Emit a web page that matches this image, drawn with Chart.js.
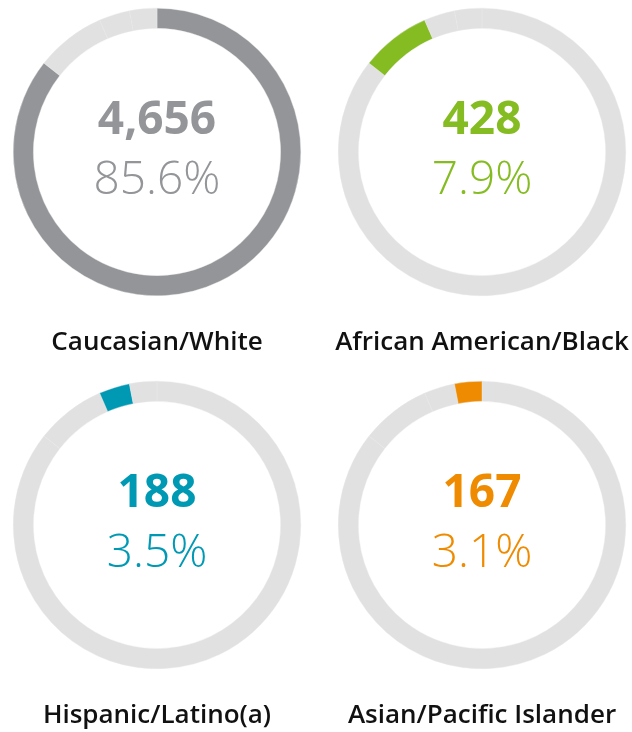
<!DOCTYPE html>
<html>
<head>
<meta charset="utf-8">
<script src="https://cdn.jsdelivr.net/npm/chart.js@4/dist/chart.umd.min.js"></script>
<style>
  html,body{margin:0;padding:0;background:#fff;}
  #wrap{position:relative;width:632px;height:732px;}
  canvas{position:absolute;}
</style>
</head>
<body>
<div id="wrap">
  <canvas id="c0" width="316" height="366" style="left:0;top:0"></canvas>
  <canvas id="c1" width="316" height="366" style="left:316px;top:0"></canvas>
  <canvas id="c2" width="316" height="366" style="left:0;top:366px"></canvas>
  <canvas id="c3" width="316" height="366" style="left:316px;top:366px"></canvas>
</div>
<script>
const categorias = ["Caucasian/White","African American/Black","Hispanic/Latino(a)","Asian/Pacific Islander"];
const totais = [4656, 428, 188, 167];
const percentuais = ["85.6%","7.9%","3.5%","3.1%"];
const cores = ["#939598","#84bc21","#0099b4","#ef8b00"];
const cinzaClaro = "#e1e1e1";

const formatar = v => new Intl.NumberFormat("en-US").format(v);

// padding de cada canvas para posicionar a rosca
const paddings = [
  {left:13, right:15, top:8, bottom:70},
  {left:22, right:6, top:8, bottom:70},
  {left:13, right:15, top:15, bottom:63},
  {left:22, right:6, top:15, bottom:63}
];

const textoCentro = {
  id:"textoCentro",
  afterDraw(chart){
    const i = chart.options.plugins.textoCentro.idx;
    const arc = chart.getDatasetMeta(0).data[0];
    const cx = arc.x, cy = arc.y;
    const ctx = chart.ctx;
    ctx.save();
    ctx.textAlign = "center";
    ctx.textBaseline = "alphabetic";
    ctx.fillStyle = cores[i];
    ctx.font = "700 46px 'Open Sans'";
    ctx.fillText(formatar(totais[i]), cx, cy - 18);
    ctx.font = "300 46px 'Open Sans'";
    ctx.fillText(percentuais[i], cx, cy + 42);
    ctx.fillStyle = "#111";
    ctx.font = "600 26px 'Open Sans'";
    ctx.fillText(categorias[i], cx, cy + 198);
    ctx.restore();
  }
};

categorias.forEach((cat, i) => {
  new Chart(document.getElementById("c"+i), {
    type:"doughnut",
    data:{
      labels:categorias,
      datasets:[{
        data:totais,
        backgroundColor:totais.map((_, j) => j===i ? cores[i] : cinzaClaro),
        borderColor:"#e8e8e8",
        borderWidth:0.4,
        hoverOffset:0
      }]
    },
    options:{
      responsive:false,
      animation:false,
      cutout:"86%",
      layout:{padding:paddings[i]},
      plugins:{legend:{display:false}, tooltip:{enabled:false}, textoCentro:{idx:i}},
      events:[]
    },
    plugins:[textoCentro]
  });
});
</script>
</body>
</html>
